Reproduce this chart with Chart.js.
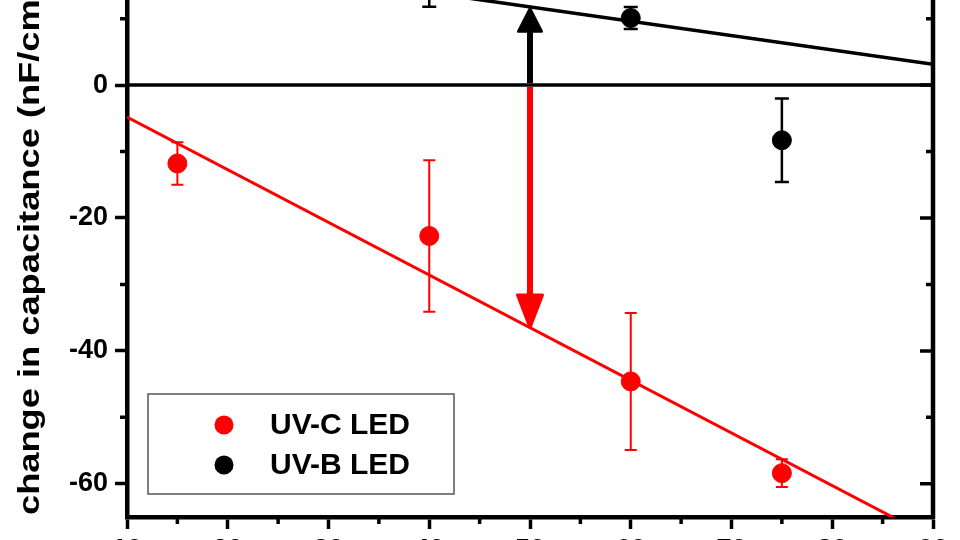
<!DOCTYPE html>
<html>
<head>
<meta charset="utf-8">
<script src="https://cdn.jsdelivr.net/npm/chart.js@4/dist/chart.umd.min.js"></script>
<style>
  html, body { margin: 0; padding: 0; background: #fff; overflow: hidden; width: 960px; height: 540px; }
  /* the figure is cropped at the top and bottom, so the canvas is taller than the window */
  #wrap { position: absolute; left: 0; top: -71px; width: 960px; height: 648px; }
</style>
</head>
<body>
<div id="wrap"><canvas id="capChart"></canvas></div>
<script>
// UV-C LED measurements
const uvcX = [15, 40, 60, 75];
const uvcY = [-11.8, -22.7, -44.6, -58.4];
const uvcErr = [3.2, 11.4, 10.3, 2.1];

// UV-B LED measurements
const uvbX = [40, 60, 75];
const uvbY = [14.5, 10.1, -8.3];
const uvbErr = [2.7, 1.65, 6.3];

// linear fits (end points)
const fitX = [10, 90];
const uvcFitY = [-4.8, -68.2];
const uvbFitY = [20.4, 3.15];
const zeroY = [0, 0];

// arrows at x = 50
const arrowX = [50, 50];
const arrowFrom = [0, 0];
const arrowTo = [11.7, -36.7];

// ticks
const xTicks = [10, 20, 30, 40, 50, 60, 70, 80, 90];
const xMinorTicks = [15, 25, 35, 45, 55, 65, 75, 85];
const yTicks = [-60, -40, -20, 0, 20];
const yMinorTicks = [-50, -30, -10, 10];

const seriesNames = ["UV-C LED", "UV-B LED"];
const yTitle = "change in capacitance (nF/cm\u00b2)";

const RED = "#ff0000";
const BLACK = "#000000";
const FONT = "'Liberation Sans', Arial, sans-serif";

function toPoints(xs, ys) {
    return xs.map((x, i) => ({ x: x, y: ys[i] }));
}

function drawErrorBars(chart, xs, ys, errs, color, width, cap) {
    const ctx = chart.ctx;
    const sx = chart.scales.x;
    const sy = chart.scales.y;
    ctx.save();
    ctx.strokeStyle = color;
    ctx.lineWidth = width;
    xs.forEach((x, i) => {
        const px = sx.getPixelForValue(x);
        const top = sy.getPixelForValue(ys[i] + errs[i]);
        const bot = sy.getPixelForValue(ys[i] - errs[i]);
        ctx.beginPath();
        ctx.moveTo(px, top);
        ctx.lineTo(px, bot);
        ctx.moveTo(px - cap, top);
        ctx.lineTo(px + cap, top);
        ctx.moveTo(px - cap, bot);
        ctx.lineTo(px + cap, bot);
        ctx.stroke();
    });
    ctx.restore();
}

const errorBarPlugin = {
    id: "errorBars",
    beforeDatasetsDraw(chart) {
        drawErrorBars(chart, uvcX, uvcY, uvcErr, RED, 2, 6);
        drawErrorBars(chart, uvbX, uvbY, uvbErr, BLACK, 2.5, 7);
    }
};

// arrow head sizes differ a bit between the two arrows
const arrowStyles = [
    { color: BLACK, head: 24, half: 13 },
    { color: RED, head: 34, half: 14 }
];

const arrowPlugin = {
    id: "arrows",
    afterDatasetsDraw(chart) {
        const ctx = chart.ctx;
        const sx = chart.scales.x;
        const sy = chart.scales.y;
        ctx.save();
        arrowX.forEach((x, i) => {
            const st = arrowStyles[i];
            const px = sx.getPixelForValue(x);
            const y0 = sy.getPixelForValue(arrowFrom[i]);
            const y1 = sy.getPixelForValue(arrowTo[i]);
            const dir = y1 < y0 ? -1 : 1;
            const start = y0 + dir * 2;
            ctx.strokeStyle = st.color;
            ctx.fillStyle = st.color;
            ctx.lineWidth = 6;
            ctx.beginPath();
            ctx.moveTo(px, start);
            ctx.lineTo(px, y1 - dir * (st.head - 2));
            ctx.stroke();
            // head
            ctx.lineJoin = "round";
            ctx.lineWidth = 3;
            ctx.beginPath();
            ctx.moveTo(px, y1 - dir * 1.5);
            ctx.lineTo(px - st.half + 1.5, y1 - dir * st.head);
            ctx.lineTo(px + st.half - 1.5, y1 - dir * st.head);
            ctx.closePath();
            ctx.fill();
            ctx.stroke();
        });
        ctx.restore();
    }
};

// minor ticks, right axis and its ticks
const framePlugin = {
    id: "frame",
    afterDraw(chart) {
        const ctx = chart.ctx;
        const area = chart.chartArea;
        const sx = chart.scales.x;
        const sy = chart.scales.y;
        ctx.save();
        ctx.strokeStyle = BLACK;
        ctx.lineWidth = 3.5;
        ctx.beginPath();
        xMinorTicks.forEach(v => {
            const px = sx.getPixelForValue(v);
            ctx.moveTo(px, area.bottom);
            ctx.lineTo(px, area.bottom + 7);
        });
        yMinorTicks.forEach(v => {
            const py = sy.getPixelForValue(v);
            ctx.moveTo(area.left, py);
            ctx.lineTo(area.left - 7, py);
            ctx.moveTo(area.right, py);
            ctx.lineTo(area.right - 7, py);
        });
        yTicks.forEach(v => {
            const py = sy.getPixelForValue(v);
            ctx.moveTo(area.right, py);
            ctx.lineTo(area.right - 13, py);
        });
        ctx.stroke();
        ctx.lineWidth = 4.5;
        ctx.beginPath();
        ctx.moveTo(area.right, area.bottom + 2);
        ctx.lineTo(area.right, area.top);
        ctx.lineTo(area.left, area.top);
        ctx.stroke();
        ctx.restore();
    }
};

// rotated y-axis title, stretched along the text like the figure
const yTitlePlugin = {
    id: "yTitle",
    afterDraw(chart) {
        const ctx = chart.ctx;
        ctx.save();
        ctx.translate(38.8, 586);
        ctx.rotate(-Math.PI / 2);
        ctx.scale(1.25, 1);
        ctx.font = "bold 29px " + FONT;
        ctx.fillStyle = BLACK;
        ctx.textAlign = "left";
        ctx.textBaseline = "alphabetic";
        ctx.fillText(yTitle, 0, 0);
        ctx.restore();
    }
};

// legend box in the lower left of the plot
const legendPlugin = {
    id: "boxLegend",
    afterDraw(chart) {
        const ctx = chart.ctx;
        const colors = [RED, BLACK];
        ctx.save();
        ctx.fillStyle = "#ffffff";
        ctx.fillRect(148, 465, 306, 100);
        ctx.strokeStyle = "#555555";
        ctx.lineWidth = 1.5;
        ctx.strokeRect(148, 465, 306, 100);
        ctx.font = "bold 30px " + FONT;
        ctx.textAlign = "left";
        ctx.textBaseline = "middle";
        seriesNames.forEach((name, i) => {
            const cy = 496 + i * 40;
            ctx.fillStyle = colors[i];
            ctx.beginPath();
            ctx.arc(224, cy, 9.5, 0, Math.PI * 2);
            ctx.fill();
            ctx.fillStyle = BLACK;
            ctx.fillText(name, 270, cy + 1);
        });
        ctx.restore();
    }
};

const tickFont = { family: FONT, size: 27, weight: "bold" };

const config = {
    type: "scatter",
    data: {
        datasets: [
            {
                label: seriesNames[0],
                data: toPoints(uvcX, uvcY),
                backgroundColor: RED,
                borderColor: RED,
                pointRadius: 9.5,
                pointHoverRadius: 9.5
            },
            {
                label: seriesNames[1],
                data: toPoints(uvbX, uvbY),
                backgroundColor: BLACK,
                borderColor: BLACK,
                pointRadius: 9.5,
                pointHoverRadius: 9.5
            },
            {
                label: "UV-C fit",
                data: toPoints(fitX, uvcFitY),
                showLine: true,
                borderColor: RED,
                borderWidth: 3,
                pointRadius: 0
            },
            {
                label: "UV-B fit",
                data: toPoints(fitX, uvbFitY),
                showLine: true,
                borderColor: BLACK,
                borderWidth: 3.5,
                pointRadius: 0
            },
            {
                label: "zero",
                data: toPoints(fitX, zeroY),
                showLine: true,
                borderColor: BLACK,
                borderWidth: 3.5,
                pointRadius: 0
            }
        ]
    },
    options: {
        responsive: true,
        maintainAspectRatio: false,
        animation: false,
        layout: { padding: { top: 20, right: 27, bottom: 0, left: 0 } },
        plugins: {
            legend: { display: false },
            tooltip: { enabled: false }
        },
        scales: {
            x: {
                type: "linear",
                min: 10,
                max: 90,
                afterBuildTicks: s => { s.ticks = xTicks.map(v => ({ value: v })); },
                afterFit: s => { s.height = 60; },
                ticks: { font: tickFont, color: BLACK, padding: 5 },
                grid: { drawOnChartArea: false, tickLength: 12, tickWidth: 3.5, tickColor: BLACK },
                border: { color: BLACK, width: 4.5 }
            },
            y: {
                min: -65,
                max: 20,
                afterBuildTicks: s => { s.ticks = yTicks.map(v => ({ value: v })); },
                afterFit: s => { s.width = 127; },
                ticks: { font: tickFont, color: BLACK, padding: 7 },
                grid: { drawOnChartArea: false, tickLength: 12, tickWidth: 3.5, tickColor: BLACK },
                border: { color: BLACK, width: 4.5 }
            }
        }
    },
    plugins: [errorBarPlugin, arrowPlugin, framePlugin, yTitlePlugin, legendPlugin]
};

const capChart = new Chart(document.getElementById("capChart"), config);
</script>
</body>
</html>
